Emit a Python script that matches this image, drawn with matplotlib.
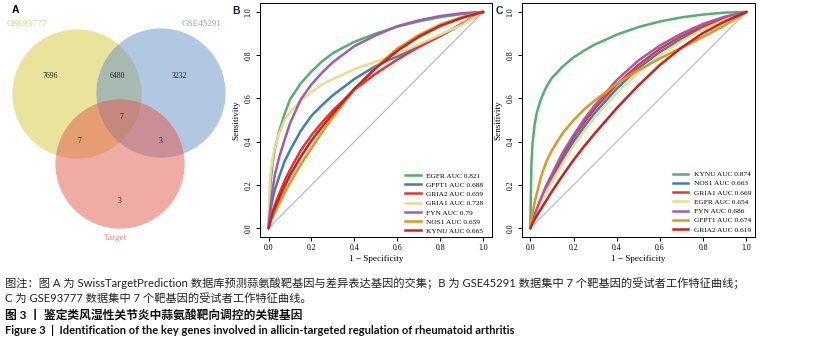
import matplotlib
matplotlib.use("Agg")
import matplotlib.pyplot as plt
from matplotlib.patches import Circle
from matplotlib.lines import Line2D

# ---------------- data ----------------
venn_sets = ["GSE93777", "GSE45291", "Target"]
venn_counts = {"only1": 7696, "1_2": 6480, "only2": 3232, "all": 7,
               "1_3": 7, "2_3": 3, "only3": 3}

fpr = [0, 0.005, 0.01, 0.02, 0.03, 0.05, 0.075, 0.1, 0.15, 0.2, 0.25, 0.3,
       0.4, 0.5, 0.6, 0.7, 0.8, 0.9, 1.0]

genes_b = ["EGFR", "GFPT1", "GRIA2", "GRIA1", "FYN", "NOS1", "KYNU"]
auc_b = ["0.821", "0.688", "0.659", "0.728", "0.79", "0.659", "0.665"]
sens_b = [
    [0, 0.15, 0.22, 0.31, 0.37, 0.45, 0.53, 0.595, 0.67, 0.725, 0.772, 0.81, 0.862, 0.9, 0.932, 0.956, 0.976, 0.99, 1],
    [0, 0.05, 0.09, 0.14, 0.18, 0.24, 0.31, 0.36, 0.45, 0.52, 0.57, 0.615, 0.69, 0.75, 0.795, 0.84, 0.888, 0.942, 1],
    [0, 0.025, 0.045, 0.08, 0.11, 0.16, 0.22, 0.27, 0.36, 0.43, 0.49, 0.545, 0.64, 0.715, 0.78, 0.838, 0.89, 0.945, 1],
    [0, 0.2, 0.26, 0.33, 0.38, 0.44, 0.5, 0.535, 0.59, 0.63, 0.665, 0.69, 0.735, 0.77, 0.805, 0.85, 0.895, 0.94, 1],
    [0, 0.06, 0.11, 0.19, 0.25, 0.33, 0.41, 0.485, 0.595, 0.665, 0.72, 0.768, 0.842, 0.892, 0.934, 0.961, 0.981, 0.994, 1],
    [0, 0.015, 0.03, 0.055, 0.075, 0.115, 0.165, 0.21, 0.295, 0.37, 0.445, 0.515, 0.64, 0.745, 0.83, 0.893, 0.942, 0.976, 1],
    [0, 0.02, 0.04, 0.07, 0.095, 0.14, 0.195, 0.245, 0.33, 0.405, 0.47, 0.53, 0.645, 0.74, 0.82, 0.885, 0.935, 0.972, 1],
]

genes_c = ["KYNU", "NOS1", "GRIA1", "EGFR", "FYN", "GFPT1", "GRIA2"]
auc_c = ["0.874", "0.663", "0.669", "0.654", "0.686", "0.674", "0.619"]
sens_c = [
    [0, 0.3, 0.39, 0.48, 0.535, 0.6, 0.655, 0.695, 0.748, 0.79, 0.822, 0.85, 0.895, 0.93, 0.956, 0.975, 0.988, 0.997, 1],
    [0, 0.02, 0.033, 0.058, 0.08, 0.125, 0.18, 0.23, 0.32, 0.40, 0.47, 0.535, 0.645, 0.74, 0.815, 0.875, 0.928, 0.968, 1],
    [0, 0.02, 0.035, 0.06, 0.085, 0.135, 0.19, 0.24, 0.335, 0.42, 0.49, 0.555, 0.665, 0.755, 0.83, 0.888, 0.935, 0.972, 1],
    [0, 0.018, 0.03, 0.055, 0.075, 0.118, 0.17, 0.215, 0.3, 0.38, 0.45, 0.515, 0.625, 0.72, 0.8, 0.865, 0.92, 0.963, 1],
    [0, 0.02, 0.035, 0.065, 0.09, 0.14, 0.2, 0.25, 0.35, 0.43, 0.505, 0.57, 0.685, 0.775, 0.845, 0.9, 0.945, 0.978, 1],
    [0, 0.04, 0.07, 0.12, 0.16, 0.24, 0.31, 0.36, 0.44, 0.5, 0.55, 0.592, 0.668, 0.73, 0.785, 0.835, 0.885, 0.938, 1],
    [0, 0.012, 0.022, 0.04, 0.058, 0.09, 0.13, 0.17, 0.245, 0.315, 0.38, 0.44, 0.555, 0.66, 0.755, 0.835, 0.903, 0.956, 1],
]

palette = ["#55B06F", "#3D7DBA", "#E5352F", "#EADB8E", "#A25BAE", "#E0961E", "#D01E1E"]

caption_lines = [
    "图注：图 A 为 SwissTargetPrediction 数据库预测蒜氨酸靶基因与差异表达基因的交集；B 为 GSE45291 数据集中 7 个靶基因的受试者工作特征曲线；",
    "C 为 GSE93777 数据集中 7 个靶基因的受试者工作特征曲线。",
    "图 3 丨 鉴定类风湿性关节炎中蒜氨酸靶向调控的关键基因",
    "Figure 3  |  Identification of the key genes involved in allicin-targeted regulation of rheumatoid arthritis",
]

# ---------------- figure ----------------
W, H = 815, 354
fig = plt.figure(figsize=(W / 100, H / 100), dpi=100)
fig.patch.set_facecolor("white")

# overlay in pixel coordinates (Venn + captions)
ov = fig.add_axes([0, 0, 1, 1])
ov.set_xlim(0, W)
ov.set_ylim(H, 0)
ov.axis("off")

serif = "Liberation Serif"
circ = [((77, 94), "#D6C83A"), ((161, 93), "#6690C6"), ((120, 164), "#E2584C")]
for (c, col) in circ:
    ov.add_patch(Circle(c, 64.6, facecolor=col, alpha=0.5, edgecolor="none"))

ov.text(27, 24, venn_sets[0], color="#D8CF78", fontsize=6.6, family=serif, ha="center", va="center")
ov.text(202, 24, venn_sets[1], color="#8FA7C6", fontsize=6.6, family=serif, ha="center", va="center")
ov.text(115, 238, venn_sets[2], color="#E38880", fontsize=6.6, family=serif, ha="center", va="center")
num_pos = {"only1": (50, 76), "1_2": (117, 76), "only2": (179, 76), "all": (121, 117),
           "1_3": (79, 141), "2_3": (161, 141), "only3": (120, 201)}
for k, (x, y) in num_pos.items():
    ov.text(x, y, str(venn_counts[k]), fontsize=5.6, family=serif, ha="center", va="center", color="#222222")

lab_font = "Liberation Sans"
ov.text(15, 10, "A", fontsize=7.5, fontweight="bold", family=lab_font, ha="center", va="center", color="black")
ov.text(236, 11, "B", fontsize=7.5, fontweight="bold", family=lab_font, ha="center", va="center", color="#15233F")
ov.text(499, 11, "C", fontsize=7.5, fontweight="bold", family=lab_font, ha="center", va="center", color="#15233F")

cap_fam = ["Lato", "Noto Sans CJK SC"]
ov.text(5, 283, caption_lines[0], fontsize=8.1, family=cap_fam, ha="left", va="center", color="#222222")
ov.text(5, 298, caption_lines[1], fontsize=8.1, family=cap_fam, ha="left", va="center", color="#222222")
ov.text(5, 315, caption_lines[2], fontsize=8.5, family=cap_fam, fontweight="bold", ha="left", va="center", color="#111111")
ov.text(5, 331, caption_lines[3], fontsize=8.0, family=cap_fam, fontweight="bold", ha="left", va="center", color="#111111")


def roc_panel(rect, genes, aucs, sens, legend_anchor):
    ax = fig.add_axes(rect)
    ax.set_xlim(-0.04, 1.04)
    ax.set_ylim(-0.04, 1.04)
    ax.plot([0, 1], [0, 1], color="#B5B5B5", lw=0.8, zorder=1)
    handles = []
    for i, (g, a, s) in enumerate(zip(genes, aucs, sens)):
        ax.plot(fpr, s, color=palette[i], lw=1.8, solid_capstyle="round",
                solid_joinstyle="round", zorder=2 + i)
        handles.append(Line2D([0], [0], color=palette[i], lw=1.8, label=f"{g} AUC {a}"))
    ticks = [0, 0.2, 0.4, 0.6, 0.8, 1.0]
    ax.set_xticks(ticks)
    ax.set_yticks(ticks)
    ax.set_xticklabels([f"{t:.1f}" for t in ticks])
    ax.set_yticklabels([f"{t:.1f}" for t in ticks], rotation=90, va="center")
    ax.tick_params(direction="out", length=3.2, width=0.7, labelsize=5.6, pad=2)
    for lab in ax.get_xticklabels() + ax.get_yticklabels():
        lab.set_family(serif)
    for sp in ax.spines.values():
        sp.set_linewidth(0.7)
    ax.set_xlabel("1 \u2212 Specificity", fontsize=6.6, family=serif, labelpad=2.5)
    ax.set_ylabel("Sensitivity", fontsize=6.6, family=serif, labelpad=3)
    ax.legend(handles=handles, loc="lower right", bbox_to_anchor=legend_anchor,
              frameon=False, prop={"family": serif, "size": 5.3},
              handlelength=2.1, handletextpad=0.8, labelspacing=0.42,
              borderpad=0, borderaxespad=0)
    return ax


top = 1 - 3.3 / H
bottom = 1 - 236.8 / H
roc_panel([260 / W, bottom, 231.7 / W, top - bottom], genes_b, auc_b, sens_b, (0.965, 0.012))
roc_panel([521.7 / W, bottom, 233.3 / W, top - bottom], genes_c, auc_c, sens_c, (0.985, 0.018))

fig.savefig("out.png", dpi=100, facecolor="white")
